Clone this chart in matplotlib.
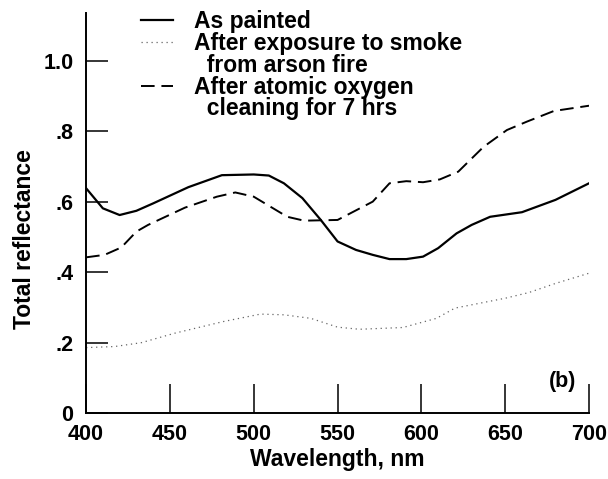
import numpy as np
import matplotlib.pyplot as plt
from matplotlib.lines import Line2D

plt.rcParams['font.family'] = ['Liberation Sans', 'DejaVu Sans']
plt.rcParams['font.weight'] = 'bold'
plt.rcParams['axes.labelweight'] = 'bold'

# as painted (solid)
wl_painted = [400, 410, 420, 430, 440, 461, 481, 500, 509, 518, 529, 540, 550,
              561, 571, 581, 591, 601, 610, 621, 630, 641, 660, 680, 700]
r_painted = [0.638, 0.581, 0.562, 0.574, 0.595, 0.641, 0.675, 0.677, 0.674, 0.652,
             0.610, 0.548, 0.487, 0.463, 0.449, 0.437, 0.437, 0.444, 0.468, 0.510,
             0.534, 0.557, 0.570, 0.605, 0.652]

# after smoke exposure (dotted)
wl_smoke = [400, 417, 433, 453, 482, 504, 518, 534, 550, 563, 589, 609, 620,
            650, 664, 680, 700]
r_smoke = [0.186, 0.189, 0.200, 0.227, 0.260, 0.281, 0.279, 0.269, 0.244, 0.238,
           0.243, 0.269, 0.298, 0.326, 0.342, 0.368, 0.397]

# after atomic oxygen cleaning (dashed)
wl_cleaned = [400, 411, 421, 430, 437, 459, 478, 489, 500, 520, 530, 550, 571,
              581, 591, 601, 611, 622, 637, 651, 663, 679, 700]
r_cleaned = [0.442, 0.449, 0.470, 0.515, 0.534, 0.583, 0.614, 0.626, 0.614, 0.557,
             0.546, 0.548, 0.600, 0.652, 0.658, 0.655, 0.663, 0.685, 0.755, 0.803,
             0.827, 0.857, 0.872]

xticks = [400, 450, 500, 550, 600, 650, 700]
yticks = [0, 0.2, 0.4, 0.6, 0.8, 1.0]
ytick_labels = ['0', '.2', '.4', '.6', '.8', '1.0']

fig = plt.figure(figsize=(6.08, 4.79), dpi=100)
ax = fig.add_axes([0.1416, 0.1374, 0.8272, 0.8355])

l1, = ax.plot(wl_painted, r_painted, color='black', lw=1.6)
l2, = ax.plot(wl_smoke, r_smoke, color='0.4', lw=0.9, linestyle=(0, (1, 3)))
l3, = ax.plot(wl_cleaned, r_cleaned, color='black', lw=1.4, dashes=(7, 3.5))

ax.set_xlim(400, 700)
ax.set_ylim(0, 1.135)
ax.set_xticks(xticks)
ax.set_yticks(yticks)
ax.set_yticklabels(ytick_labels)
ax.tick_params(axis='x', direction='in', length=21, width=1.1, pad=8, labelsize=15.5)
ax.tick_params(axis='y', direction='in', length=16, width=1.1, pad=9, labelsize=15.5)
for s in ['top', 'right']:
    ax.spines[s].set_visible(False)
for s in ['left', 'bottom']:
    ax.spines[s].set_linewidth(1.4)

ax.set_xlabel('Wavelength, nm', fontsize=16.5, labelpad=2)
ax.set_ylabel('Total reflectance', fontsize=16.5)
ax.yaxis.set_label_coords(-0.10, 0.435)

ax.text(684, 0.09, '(b)', fontsize=15.5, ha='center', va='center')

blank = Line2D([], [], color='none')
ax.legend([l1, l2, blank, l3, blank],
          ['As painted', 'After exposure to smoke', '  from arson fire',
           'After atomic oxygen', '  cleaning for 7 hrs'],
          loc='upper left', bbox_to_anchor=(0.109, 1.0075), frameon=False,
          fontsize=16.5, handlelength=1.4, handletextpad=0.9,
          labelspacing=-0.05, borderpad=0, borderaxespad=0)

fig.savefig('out.png', dpi=100)
